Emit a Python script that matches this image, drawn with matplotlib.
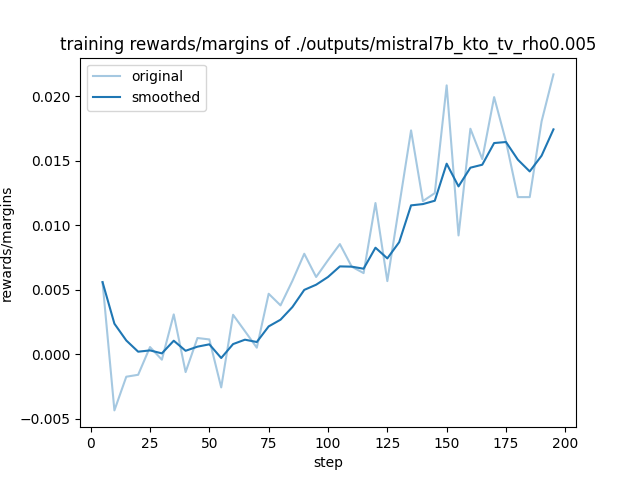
import matplotlib
matplotlib.use("Agg")
import matplotlib.pyplot as plt

# steps logged every 5
steps = list(range(5, 200, 5))

original = [
    0.0056, -0.00434, -0.00173, -0.00158, 0.00057, -0.00041, 0.0031, -0.00137,
    0.00127, 0.00116, -0.00256, 0.00307, 0.0018, 0.00052, 0.0047, 0.0038,
    0.0057, 0.0078, 0.0060, 0.0073, 0.00855, 0.0068, 0.0063, 0.01173,
    0.00568, 0.01152, 0.01736, 0.01188, 0.0125, 0.02085, 0.00922, 0.01749,
    0.01514, 0.01994, 0.0165, 0.01219, 0.01219, 0.01806, 0.0217,
]

smoothed = [
    0.0056, 0.00238, 0.00108, 0.00021, 0.00031, 0.00008, 0.00106, 0.00028,
    0.0006, 0.00078, -0.00028, 0.0008, 0.00114, 0.00096, 0.00217, 0.00269,
    0.00367, 0.0050, 0.0054, 0.0060, 0.00682, 0.0068, 0.00664, 0.00827,
    0.00744, 0.0087, 0.01155, 0.01165, 0.01191, 0.01478, 0.01302, 0.01447,
    0.0147, 0.01638, 0.01646, 0.01509, 0.01418, 0.0154, 0.01744,
]

fig, ax = plt.subplots(figsize=(6.4, 4.8), dpi=100)
ax.plot(steps, original, color="tab:blue", alpha=0.4, label="original")
ax.plot(steps, smoothed, color="tab:blue", label="smoothed")
ax.set_title("training rewards/margins of ./outputs/mistral7b_kto_tv_rho0.005")
ax.set_xlabel("step")
ax.set_ylabel("rewards/margins")
ax.legend(loc="upper left")

fig.savefig("out.png")
